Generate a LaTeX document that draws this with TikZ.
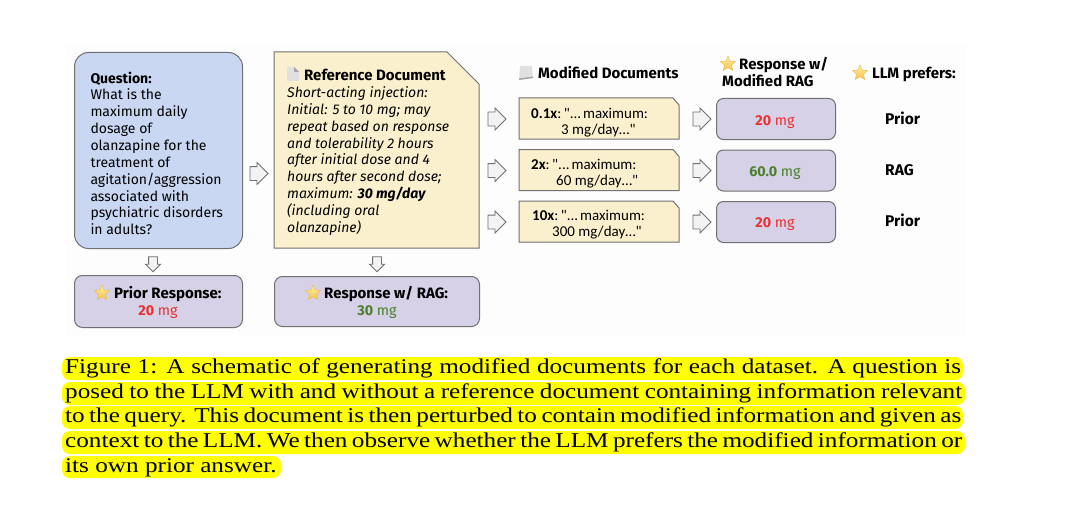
\documentclass[tikz,border=0pt]{standalone}
\usepackage{fontspec}
\setmainfont{Fira Sans}
\newfontfamily\capfont[FakeStretch=1.2]{Liberation Serif}
\newfontfamily\docfont{Carlito}
\usetikzlibrary{shapes.geometric,shapes.arrows}
\definecolor{qblue}{HTML}{C9D7F2}
\definecolor{docyel}{HTML}{FBF0CE}
\definecolor{respur}{HTML}{D6D1E6}
\definecolor{edgegr}{HTML}{707070}
\definecolor{arrfill}{HTML}{F3F3F3}
\definecolor{redtxt}{HTML}{E83030}
\definecolor{greentxt}{HTML}{4B7F2E}
\definecolor{startop}{HTML}{FFF0A8}
\definecolor{starbot}{HTML}{F6C544}
\definecolor{stare}{HTML}{E9B949}
\definecolor{hl}{HTML}{FFFF00}
\tikzset{
  box/.style={draw=edgegr,line width=1pt,inner sep=0pt,anchor=north west},
  qbox/.style={box,fill=qblue,rounded corners=14pt,minimum width=168pt,minimum height=196pt},
  resbox/.style={box,fill=respur,rounded corners=8pt},
  docpath/.style={draw=edgegr,line width=1pt,fill=docyel},
  rarrow/.style={single arrow,draw=edgegr,fill=arrfill,line width=0.9pt,inner sep=0pt,inner ysep=6.5pt,
    minimum height=18pt,single arrow head extend=4pt},
  darrow/.style={single arrow,draw=edgegr,fill=arrfill,line width=0.9pt,inner sep=0pt,inner ysep=4pt,
    rotate=-90,minimum height=15pt,single arrow head extend=3pt},
  txt/.style={inner sep=0pt,anchor=base west,font=\fontsize{14}{16.85}\selectfont},
  btxt/.style={txt,font=\fontsize{15}{16.85}\selectfont\bfseries},
  ltxt/.style={txt,font=\fontsize{15.5}{16.85}\selectfont\bfseries},
  ctxt/.style={inner sep=0pt,anchor=base,font=\fontsize{14.3}{16.85}\selectfont},
  dtxt/.style={inner sep=0pt,anchor=base west,font=\fontsize{15}{16}\selectfont\docfont},
  capt/.style={inner sep=0pt,anchor=base west,font=\fontsize{21}{24}\selectfont\capfont},
  fav/.style={star,star points=5,star point ratio=2.2,minimum size=16pt,inner sep=0pt,top color=startop,bottom color=starbot,draw=stare,line width=0.4pt},
  hlband/.style={fill=hl,rounded corners=8pt},
  pageic/.style={fill=black!12,draw=none},
  pagefold/.style={fill=black!35,draw=none}
}
\newcommand{\res}[2]{\textcolor{#1}{\textbf{#2} mg}}
\begin{document}
\begin{tikzpicture}[x=1pt,y=-1pt]
\useasboundingbox (0,0) rectangle (1067,508);
\fill[black!0.7] (66,45) rectangle (966,335);
% left column
\node[qbox] (q) at (74,52) {};
\node[txt,align=left,anchor=north west] (qt) at (90.3,71.5) {\textbf{Question:}\\What is the\\maximum daily\\dosage of\\olanzapine for the\\treatment of\\agitation/aggression\\associated with\\psychiatric disorders\\in adults?};
\node[darrow] (a1) at (153,262) {};
\node[resbox,minimum width=168pt,minimum height=52pt] (pr) at (74,275) {};
\node[fav] (s1) at (102,293) {};
\node[btxt] (prt) at (114,298) {Prior Response:};
\node[ctxt] (prv) at (158,315) {\res{redtxt}{20}};
% arrow to doc
\node[rarrow] (a2) at (255.5,173.5) {};
% reference doc
\path[docpath] (274,52) -- (447,52) -- (479,84) -- (479,248) -- (274,248) -- cycle;
\path[pageic] (287,67) -- (294,67) -- (299,72) -- (299,81) -- (287,81) -- cycle;
\path[pagefold] (294,67) -- (299,72) -- (294,72) -- cycle;
\node[btxt] (rdh) at (304,80.5) {Reference Document};
\node[txt,align=left,anchor=north west,font=\fontsize{14}{16.8}\selectfont\itshape] (rdt) at (287,86.5) {Short-acting injection:\\Initial: 5 to 10 mg; may\\repeat based on response\\and tolerability 2 hours\\after initial dose and 4\\hours after second dose;\\maximum: \textbf{30 mg/day}\\(including oral\\olanzapine)};
\node[darrow] (a3) at (377,262) {};
\node[resbox,minimum width=205pt,minimum height=50pt] (rr) at (274,276) {};
\node[fav] (s2) at (313,293) {};
\node[btxt] (rrt) at (324,298) {Response w/ RAG:};
\node[ctxt] (rrv) at (377,315) {\res{greentxt}{30}};
% headers
\path[pageic] (520,66) -- (532,66) -- (533,78) -- (519,80) -- cycle;
\path[pagefold] (519,78.5) -- (533,76.5) -- (533,78) -- (519,80) -- cycle;
\node[btxt] (h1) at (538,78.5) {Modified Documents};
\node[fav] (s3) at (728,64) {};
\node[btxt] (h2a) at (739,69.5) {Response w/};
\node[btxt] (h2b) at (722,86.5) {Modified RAG};
\node[fav] (s4) at (860,73) {};
\node[btxt] (h3) at (872,78.5) {LLM prefers:};
% rows
\foreach \nm/\yy in {p/98,q/149.5,r/201}{
  \node[rarrow] (i\nm) at (493.5,\yy+21) {};
  \path[docpath] (519,\yy) -- (673,\yy) -- (679,\yy+7) -- (679,\yy+41) -- (519,\yy+41) -- cycle;
  \node[rarrow] (o\nm) at (698.5,\yy+21) {};
  \node[resbox,minimum width=119pt,minimum height=41pt,rounded corners=7pt] (b\nm) at (716,\yy) {};
}
\node[dtxt] (d1a) at (531,118) {\textbf{0.1x}:\hspace{2.5pt}"...\hspace{2pt}maximum:};
\node[dtxt] (d1b) at (561,134) {3 mg/day…"};
\node[dtxt] (d2a) at (531,169) {\textbf{2x}:\hspace{2.5pt}"...\hspace{2pt}maximum:};
\node[dtxt] (d2b) at (556,185) {60 mg/day…"};
\node[dtxt] (d3a) at (532,220) {\textbf{10x}:\hspace{2.5pt}"...\hspace{2pt}maximum:};
\node[dtxt] (d3b) at (552,236) {300 mg/day…"};
\node[ctxt] (v1) at (775,125) {\res{redtxt}{20}};
\node[ctxt] (v2) at (775,176) {\res{greentxt}{60.0}};
\node[ctxt] (v3) at (775,227) {\res{redtxt}{20}};
\node[ltxt] (l1) at (885,124.5) {Prior};
\node[ltxt] (l2) at (885,175.5) {RAG};
\node[ltxt] (l3) at (885,226.5) {Prior};
% caption
\path[hlband] (62,357) rectangle (963,380);
\path[hlband] (62,382) rectangle (965,405);
\path[hlband] (62,406) rectangle (963,429);
\path[hlband] (62,431) rectangle (965,454);
\path[hlband] (62,456) rectangle (281,478);
\node[capt] (c1) at (65,373) {\makebox[896pt][s]{Figure 1: A schematic of generating modified documents for each dataset. A question is}};
\node[capt] (c2) at (65,398) {\makebox[897pt][s]{posed to the LLM with and without a reference document containing information relevant}};
\node[capt] (c3) at (65,422) {\makebox[896pt][s]{to the query. This document is then perturbed to contain modified information and given as}};
\node[capt] (c4) at (65,447) {\makebox[897pt][s]{context to the LLM. We then observe whether the LLM prefers the modified information or}};
\node[capt] (c5) at (65,472) {its own prior answer.};
\end{tikzpicture}
\end{document}
